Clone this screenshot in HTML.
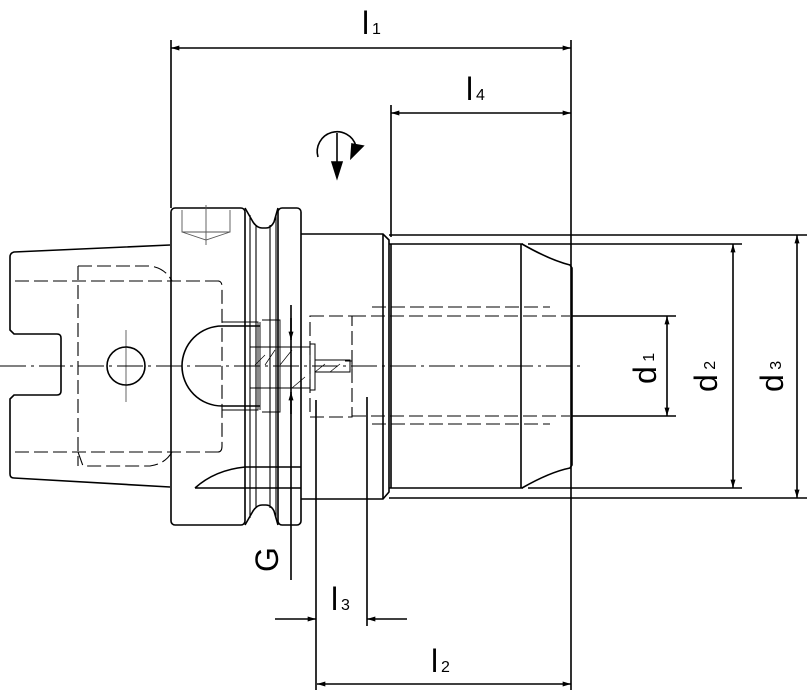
<!DOCTYPE html>
<html><head><meta charset="utf-8"><style>html,body{margin:0;padding:0;background:#fff}svg{display:block}</style></head>
<body>
<svg width="807" height="694" viewBox="0 0 807 694" xmlns="http://www.w3.org/2000/svg" font-family="Liberation Sans, sans-serif">
<defs>
<marker id="a" viewBox="0 0 10 6" refX="10" refY="3" markerWidth="14" markerHeight="5" markerUnits="userSpaceOnUse" orient="auto-start-reverse"><path d="M0,0L10,3L0,6z" fill="#000"/></marker>
</defs>
<g stroke="#000" fill="none" stroke-width="1.6">
<path d="M0,366H580" stroke-width="0.9" stroke-dasharray="26,5,3,5"/>
<path d="M171,40V208M571,40V690M391,105V237M316,400V690M367,397V626M291,305V580"/>
<path d="M171,48H571" marker-start="url(#a)" marker-end="url(#a)"/>
<path d="M391,113H571" marker-start="url(#a)" marker-end="url(#a)"/>
<path d="M317,684H571" marker-start="url(#a)" marker-end="url(#a)"/>
<path d="M275,619H316" marker-end="url(#a)"/>
<path d="M407,619H367" marker-end="url(#a)"/>
<path d="M291,318V340" marker-end="url(#a)"/>
<path d="M291,414V392" marker-end="url(#a)"/>
<path d="M572,316H676M572,416H676"/>
<path d="M667,316V416" marker-start="url(#a)" marker-end="url(#a)"/>
<path d="M528,244H742M528,488H742"/>
<path d="M733,244V488" marker-start="url(#a)" marker-end="url(#a)"/>
<path d="M389,235H807M389,498H807"/>
<path d="M797,235V498" marker-start="url(#a)" marker-end="url(#a)"/>
<path d="M318,157A16,16 0 1 1 356,146" />
<path d="M337,133V165"/>
<path d="M332,162L337,178L342,162z" fill="#000"/>
<path d="M352,144L363,146L351,158z" fill="#000"/>
<path d="M170,245L14,252Q10,253 10,257V330L14,334H57Q61,334 61,338V391Q61,395 57,395H14L10,399V474Q10,478 14,478L170,487"/>
<rect x="171" y="208" width="74" height="317" rx="4"/>
<path d="M245,208L253,222Q257,228 262,228H266Q271,228 274,222L278,208M245,525L253,511Q257,505 262,505H266Q271,505 274,511L278,525"/>
<rect x="278" y="208" width="23" height="317" rx="4"/>
<path d="M250,215V518M256,225V508M270,225V508M276,215V518" stroke-width="1.1"/>
<path d="M182,210V232H230V210M182,232L206,240L230,232M206,205V245" stroke-width="0.9" stroke="#555"/>
<path d="M301,234H383L389,240V492L383,499H301"/>
<path d="M383,234V499M391,244V488M389,244H523M389,488H523M521,244V488"/>
<path d="M522,244Q550,260 570,265L572,268V465L570,468Q550,472 522,488"/>
<g stroke-dasharray="14,5" stroke-width="1.1">
<path d="M15,281H220M15,452H220M78,266Q78,266 83,266H150Q165,268 172,281M78,452Q78,452 83,466H150Q165,464 172,452M78,266V466"/>
<path d="M210,281H218Q222,281 222,287V446Q222,452 218,452H210"/>
<path d="M310,316H352V417H310z"/>
<path d="M352,316H570M352,416H570M372,307H550M372,424H550"/>
</g>
<circle cx="126" cy="366" r="19"/>
<path d="M126,330V402" stroke-width="0.6"/>
<path d="M260,326H222A40,40 0 0 0 222,406H260" />
<path d="M222,322H258V410H222M260,322V410M262,320H280V412H262" stroke-width="0.9"/>
<path d="M250,347H310V388H250z M310,344H315V390H310z M315,360H350V372H315z M345,361H352V376" stroke-width="1"/>
<path d="M255,365L265,355M265,365L275,350M280,365L292,350M292,388L305,377M315,372L325,364M330,372L340,364" stroke-width="0.7"/>
<path d="M195,488Q215,470 245,467H301M195,488H301"/>
</g>
<g font-size="32" fill="#000">
<text x="362" y="34">l</text><text x="372" y="34" font-size="16">1</text>
<text x="466" y="100">l</text><text x="476" y="100" font-size="16">4</text>
<text x="331" y="610">l</text><text x="341" y="610" font-size="16">3</text>
<text x="431" y="672">l</text><text x="441" y="672" font-size="16">2</text>
<text transform="translate(656,384) rotate(-90)">d<tspan font-size="16" dy="-2"> 1</tspan></text>
<text transform="translate(717,392) rotate(-90)">d<tspan font-size="16" dy="-2"> 2</tspan></text>
<text transform="translate(783,392) rotate(-90)">d<tspan font-size="16" dy="-2"> 3</tspan></text>
<text transform="translate(278,572) rotate(-90)">G</text>
</g>
</svg>
</body></html>
